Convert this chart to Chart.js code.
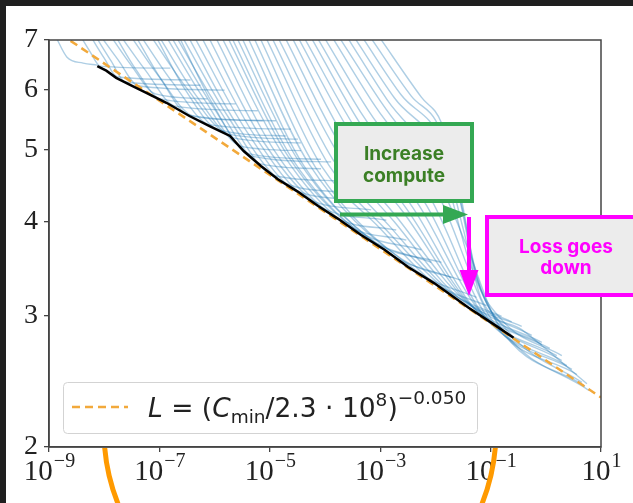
<!DOCTYPE html>
<html>
<head>
<meta charset="UTF-8">
<title>Loss vs compute</title>
<script src="https://cdn.jsdelivr.net/npm/chart.js"></script>
<style>
  html, body { margin: 0; padding: 0; background: #1f1f1f; }
  #wrap { width: 633px; height: 503px; }
</style>
</head>
<body>
<div id="wrap"><canvas id="lossChart" width="633" height="503"></canvas></div>
<script>
// axis ticks
const xTicks = [1e-9, 1e-7, 1e-5, 1e-3, 1e-1, 1e1];
const xTickExp = ['\u22129', '\u22127', '\u22125', '\u22123', '\u22121', '1'];
const yTicks = [2, 3, 4, 5, 6, 7];

// black frontier (compute, loss)
const frontierC = [7.5e-9, 1.09e-8, 1.65e-8, 3.2e-8, 5.8e-8, 1.34e-7, 3.5e-7, 8.1e-7, 1.9e-6, 3.4e-6, 6.9e-6,
                   1.4e-5, 3.2e-5, 7.5e-5, 1.7e-4, 4.5e-4, 1.2e-3, 3.2e-3, 9.6e-3, 0.04, 0.12, 0.26];
const frontierL = [6.46, 6.37, 6.23, 6.08, 5.95, 5.77, 5.54, 5.37, 5.21, 4.97, 4.75,
                   4.56, 4.39, 4.20, 4.04, 3.84, 3.67, 3.48, 3.31, 3.07, 2.91, 2.80];

// dashed power-law fit, its two ends
const fitC = [1e-9, 10];
const fitL = [7.3, 2.33];

// learning curves, one list of [compute, loss] per run
const runs = [
  [[1.29e-9,7.1],[2.12e-9,6.64],[4.15e-9,6.52],[7.46e-9,6.48]],
  [[3.66e-9,7.1],[5.56e-9,6.75],[8.46e-9,6.46],[1.58e-7,6.42]],
  [[5.56e-9,7.1],[1.0e-8,6.62],[1.72e-8,6.25],[3.66e-7,6.19]],
  [[6.86e-9,7.1],[1.34e-8,6.56],[2.41e-8,6.15],[5.56e-7,6.09]],
  [[8.46e-9,7.1],[1.8e-8,6.58],[4.15e-8,6.08],[1.52e-6,6.0]],
  [[1.29e-8,7.1],[2.97e-8,6.5],[8.46e-8,5.93],[7.46e-7,5.84]],
  [[1.58e-8,7.1],[3.82e-8,6.38],[1.04e-7,5.84],[2.41e-6,5.75]],
  [[1.95e-8,7.1],[5.56e-8,6.38],[1.95e-7,5.71],[6.05e-6,5.63]],
  [[2.97e-8,7.1],[9.59e-8,6.27],[4.33e-7,5.53],[7.46e-6,5.46]],
  [[3.66e-8,7.1],[1.09e-7,6.19],[3.37e-7,5.56],[1.29e-5,5.46]],
  [[4.51e-8,7.1],[1.72e-7,6.15],[8.46e-7,5.39],[2.41e-5,5.32]],
  [[6.86e-8,7.1],[3.1e-7,6.04],[1.8e-6,5.24],[3.23e-5,5.16]],
  [[8.46e-8,7.1],[2.97e-7,6.0],[1.18e-6,5.31],[1.95e-5,5.21]],
  [[9.59e-8,7.1],[4.71e-7,5.89],[2.21e-6,5.18],[3.66e-5,5.10]],
  [[1.29e-7,7.1],[6.58e-7,5.82],[2.97e-6,5.05],[3.66e-5,4.98]],
  [[1.58e-7,7.1],[9.2e-7,5.71],[4.33e-6,4.93],[8.46e-5,4.85]],
  [[1.95e-7,7.1],[1.29e-6,5.61],[6.86e-6,4.78],[8.46e-5,4.71]],
  [[2.21e-7,7.1],[9.2e-7,5.75],[4.51e-6,4.90],[1.29e-4,4.81]],
  [[2.51e-7,7.1],[1.8e-6,5.51],[1.13e-5,4.62],[1.58e-4,4.54]],
  [[3.23e-7,7.1],[2.51e-6,5.40],[1.87e-5,4.51],[2.41e-4,4.38]],
  [[4.15e-7,7.1],[3.66e-6,5.31],[3.1e-5,4.40],[4.51e-4,4.28]],
  [[5.56e-7,7.1],[5.34e-6,5.21],[5.12e-5,4.29],[6.86e-4,4.15]],
  [[7.46e-7,7.1],[7.78e-6,5.11],[8.46e-5,4.19],[1.29e-3,4.02]],
  [[1.0e-6,7.1],[1.13e-5,5.02],[1.46e-4,4.07],[1.95e-3,3.90]],
  [[1.29e-6,7.1],[1.72e-5,4.93],[2.41e-4,3.97],[2.97e-3,3.78]],
  [[1.65e-6,7.1],[2.12e-5,4.90],[3.98e-4,3.89],[5.56e-3,3.67]],
  [[1.95e-6,7.1],[2.62e-5,4.84],[5.12e-4,3.83],[8.46e-3,3.53]],
  [[2.41e-6,7.1],[3.23e-5,4.84],[8.46e-4,3.75],[1.29e-2,3.53]],
  [[2.97e-6,7.1],[4.15e-5,4.75],[1.46e-3,3.63],[1.95e-2,3.37]],
  [[3.82e-6,7.1],[5.12e-5,4.78],[2.41e-3,3.57],[2.97e-2,3.34]],
  [[4.91e-6,7.1],[6.86e-5,4.72],[5.12e-3,3.42],[5.56e-2,3.17]],
  [[6.31e-6,7.1],[8.46e-5,4.76],[9.59e-4,3.93],[9.2e-3,3.32],[8.46e-2,3.09]],
  [[8.11e-6,7.1],[1.18e-4,4.76],[1.29e-3,3.90],[1.8e-2,3.22],[0.158,2.99]],
  [[1.04e-5,7.1],[1.4e-4,4.84],[1.46e-3,3.95],[2.12e-2,3.20],[0.241,2.94]],
  [[1.34e-5,7.1],[1.8e-4,4.91],[1.8e-3,4.0],[2.73e-2,3.16],[0.366,2.90]],
  [[1.8e-5,7.1],[2.04e-4,5.02],[2.04e-3,4.05],[3.23e-2,3.15],[0.556,2.82]],
  [[2.41e-5,7.1],[2.51e-4,5.11],[2.62e-3,4.12],[3.82e-2,3.12],[0.846,2.76]],
  [[3.1e-5,7.1],[2.97e-4,5.24],[3.1e-3,4.15],[4.51e-2,3.09],[1.18,2.71]],
  [[3.98e-5,7.1],[3.51e-4,5.34],[3.98e-3,4.17],[5.34e-2,3.05],[1.58,2.65]],
  [[5.34e-5,7.1],[4.15e-4,5.44],[5.12e-3,4.20],[6.31e-2,3.04],[1.95,2.61]],
  [[6.86e-5,7.1],[4.91e-4,5.54],[6.86e-3,4.21],[7.46e-2,3.0],[2.41,2.57]],
  [[9.2e-5,7.1],[6.05e-4,5.64],[8.46e-3,4.28],[8.81e-2,2.98],[2.97,2.54]],
  [[1.29e-4,7.1],[8.11e-4,5.71],[1.09e-2,4.37],[0.104,2.96],[3.66,2.50]],
  [[1.72e-4,7.1],[1.04e-3,5.78],[1.29e-2,4.44],[3.66e-2,3.72],[0.134,2.92],[5.12,2.41]],
  [[2.41e-4,7.1],[1.34e-3,5.82],[1.58e-2,4.52],[4.15e-2,3.53],[0.158,2.88],[6.05,2.38]],
  [[3.23e-4,7.1],[1.8e-3,5.86],[1.46e-2,4.84],[3.23e-2,3.90],[6.86e-2,3.15],[0.366,2.87],[5.56,2.43]],
  [[4.51e-4,7.1],[2.41e-3,5.91],[1.29e-2,5.14],[2.97e-2,4.21],[5.8e-2,3.34],[0.241,2.82],[4.51,2.44]],
  [[6.31e-4,7.1],[3.66e-3,5.89],[1.18e-2,5.34],[2.73e-2,4.30],[5.34e-2,3.40],[0.158,2.96],[1.95,2.65]],
  [[9.2e-4,7.1],[5.56e-3,5.87],[1.29e-2,5.42],[2.97e-2,4.28],[4.91e-2,3.53],[8.81e-2,3.10],[0.846,2.74]]
];

const axisColor = '#444';
const fitColor = '#f2a93b';

const datasets = [
  {
    data: frontierC.map((c, i) => ({ x: c, y: frontierL[i] })),
    borderColor: '#000', borderWidth: 2.5, pointRadius: 0, tension: 0
  },
  {
    data: fitC.map((c, i) => ({ x: c, y: fitL[i] })),
    borderColor: fitColor, borderWidth: 2.5, borderDash: [8, 5], pointRadius: 0
  }
].concat(runs.map(r => ({
  data: r.map(p => ({ x: p[0], y: p[1] })),
  borderColor: 'rgba(31,119,180,0.36)', borderWidth: 1.4, pointRadius: 0,
  cubicInterpolationMode: 'monotone'
})));

// paper background, frame, legend, tick labels and slide annotations
const decor = {
  id: 'decor',
  beforeDraw(chart) {
    const c = chart.ctx;
    c.save();
    c.fillStyle = '#1f1f1f';
    c.fillRect(0, 0, chart.width, chart.height);
    c.fillStyle = '#fff';
    c.fillRect(6, 6, chart.width - 6, chart.height - 6);
    c.restore();
  },
  afterDatasetsDraw(chart) {
    const c = chart.ctx, a = chart.chartArea;
    c.save();
    c.strokeStyle = axisColor;
    c.lineWidth = 1.5;
    c.strokeRect(a.left, a.top, a.right - a.left, a.bottom - a.top);

    // legend box
    c.beginPath();
    c.roundRect(63.5, 382.5, 414, 51, 4);
    c.fillStyle = 'rgba(255,255,255,0.85)';
    c.fill();
    c.strokeStyle = '#d3d3d3';
    c.lineWidth = 1;
    c.stroke();
    c.beginPath();
    c.setLineDash([8, 5]);
    c.moveTo(72, 407); c.lineTo(128, 407);
    c.strokeStyle = fitColor; c.lineWidth = 2.5;
    c.stroke();
    c.setLineDash([]);
    const parts = [
      ['L', 'italic 26.5px "DejaVu Sans"', 0],
      [' = (', '26.5px "DejaVu Sans"', 0],
      ['C', 'italic 26.5px "DejaVu Sans"', 0],
      ['min', '18.5px "DejaVu Sans"', 6],
      ['/2.3 \u00b7 10', '26.5px "DejaVu Sans"', 0],
      ['8', '18.5px "DejaVu Sans"', -11],
      [')', '26.5px "DejaVu Sans"', 0],
      ['\u22120.050', '18.5px "DejaVu Sans"', -13]
    ];
    let tx = 148;
    c.fillStyle = '#222';
    c.textBaseline = 'alphabetic';
    parts.forEach(p => {
      c.font = p[1];
      c.fillText(p[0], tx, 417 + p[2]);
      tx += c.measureText(p[0]).width;
    });

    // x tick labels 10^n
    const xs = chart.scales.x;
    xTicks.forEach((v, i) => {
      const px = xs.getPixelForValue(v);
      c.font = '29px "Liberation Serif"';
      const w1 = c.measureText('10').width;
      c.font = '20px "Liberation Serif"';
      const w2 = c.measureText(xTickExp[i]).width;
      const x0 = px - (w1 + w2) / 2;
      c.fillStyle = '#222';
      c.font = '29px "Liberation Serif"';
      c.fillText('10', x0, 480);
      c.font = '20px "Liberation Serif"';
      c.fillText(xTickExp[i], x0 + w1 + 1, 467);
    });
    c.restore();
  },
  afterDraw(chart) {
    const c = chart.ctx;
    c.save();
    // green box + arrow
    c.fillStyle = '#ececec';
    c.fillRect(336, 124, 136, 77);
    c.strokeStyle = '#34a853';
    c.lineWidth = 4;
    c.strokeRect(336, 124, 136, 77);
    c.fillStyle = '#3b7f25';
    c.font = '700 19px Inter';
    c.textAlign = 'center';
    c.fillText('Increase', 404, 160);
    c.fillText('compute', 404, 182);
    c.beginPath();
    c.moveTo(340, 214.5); c.lineTo(446, 214.5);
    c.stroke();
    c.beginPath();
    c.moveTo(443, 205); c.lineTo(468, 214.5); c.lineTo(443, 224); c.closePath();
    c.fillStyle = '#34a853';
    c.fill();

    // magenta box + arrow
    c.fillStyle = '#ececec';
    c.fillRect(487, 217, 160, 78);
    c.strokeStyle = '#ff00ff';
    c.strokeRect(487, 217, 160, 78);
    c.fillStyle = '#ff00ff';
    c.fillText('Loss goes', 566, 253);
    c.fillText('down', 566, 274);
    c.beginPath();
    c.moveTo(469, 217); c.lineTo(469, 273);
    c.stroke();
    c.beginPath();
    c.moveTo(459.5, 270); c.lineTo(478.5, 270); c.lineTo(469, 296); c.closePath();
    c.fill();

    // orange circle peeking below the axis
    c.beginPath();
    c.rect(0, 448, chart.width, chart.height - 448);
    c.clip();
    c.beginPath();
    c.arc(300, 431, 196, 0, Math.PI * 2);
    c.strokeStyle = '#ff9a00';
    c.lineWidth = 5;
    c.stroke();
    c.restore();
  }
};

new Chart(document.getElementById('lossChart'), {
  type: 'line',
  data: { datasets: datasets },
  options: {
    responsive: false,
    animation: false,
    layout: { padding: { left: 0, top: 40, right: 32, bottom: 0 } },
    plugins: { legend: { display: false }, tooltip: { enabled: false } },
    scales: {
      x: {
        type: 'logarithmic', min: 1e-9, max: 10,
        afterBuildTicks: s => { s.ticks = xTicks.map(v => ({ value: v })); },
        afterFit: s => { s.height = 56; },
        ticks: { display: false },
        grid: { drawOnChartArea: false, drawTicks: true, tickLength: 5, color: axisColor, lineWidth: 1.3 },
        border: { display: true, color: axisColor, width: 1.5 }
      },
      y: {
        type: 'logarithmic', min: 2, max: 7,
        afterBuildTicks: s => { s.ticks = yTicks.map(v => ({ value: v })); },
        afterFit: s => { s.width = 49; },
        ticks: {
          callback: v => String(v),
          font: { family: 'Liberation Serif', size: 28 },
          color: '#222', padding: 6, autoSkip: false
        },
        grid: { drawOnChartArea: false, drawTicks: true, tickLength: 5, color: axisColor, lineWidth: 1.3 },
        border: { display: true, color: axisColor, width: 1.5 }
      }
    }
  },
  plugins: [decor]
});
</script>
</body>
</html>
